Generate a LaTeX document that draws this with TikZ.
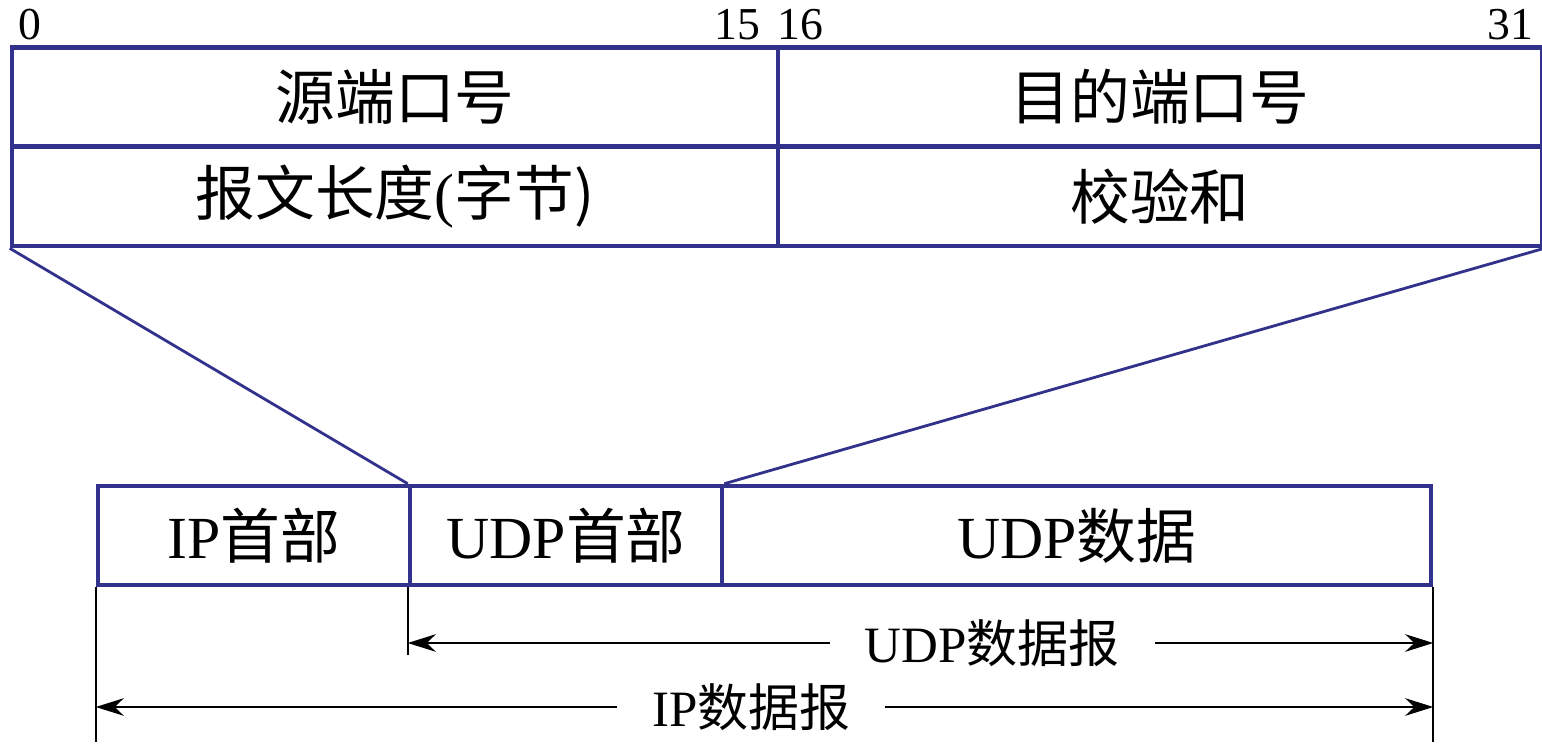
\documentclass[tikz,border=0pt]{standalone}
\usepackage{fontspec}
\setmainfont{Liberation Serif}
\newfontfamily\cjk{Noto Sans CJK SC}
\usetikzlibrary{arrows.meta}
\definecolor{udpblue}{RGB}{50,50,140}
\tikzset{
  field/.style={draw=udpblue,line width=1.3pt,minimum height=0.99cm,inner sep=0pt,font=\fontsize{17}{19}\selectfont},
  bitno/.style={font=\fontsize{13}{15}\selectfont,inner sep=0pt},
  span/.style={{Stealth[length=8pt,width=5pt]}-{Stealth[length=8pt,width=5pt]},line width=0.6pt},
}
\begin{document}
\begin{tikzpicture}
\useasboundingbox (0,0) rectangle (15.42,-7.48);
% header
\node[field,minimum width=7.66cm] (src) at (3.95,-0.97) {{\cjk 源端口号}};
\node[field,minimum width=7.64cm] (dst) at (11.60,-0.97) {{\cjk 目的端口号}};
\node[field,minimum width=7.66cm] (len) at (3.95,-1.965) {{\cjk 报文长度}(\cjk 字节)};
\node[field,minimum width=7.64cm] (cks) at (11.60,-1.965) {{\cjk 校验和}};
\node[bitno] (b0) at (0.30,-0.25) {0};
\node[bitno] (b15) at (7.37,-0.25) {15};
\node[bitno] (b16) at (8.00,-0.25) {16};
\node[bitno] (b31) at (15.10,-0.25) {31};
% datagram
\node[field,minimum width=3.12cm] (iphdr) at (2.54,-5.355) {IP{\cjk 首部}};
\node[field,minimum width=3.12cm] (udphdr) at (5.66,-5.355) {UDP{\cjk 首部}};
\node[field,minimum width=7.09cm] (udpdata) at (10.765,-5.355) {UDP{\cjk 数据}};
\draw[udpblue,line width=0.8pt] (len.south west) -- (udphdr.north west);
\draw[udpblue,line width=0.8pt] (cks.south east) -- (udphdr.north east);
% spans
\coordinate (u0) at (udphdr.south west |- 0,-6.43);
\coordinate (u1) at (udpdata.south east |- 0,-6.43);
\coordinate (i0) at (iphdr.south west |- 0,-7.07);
\coordinate (i1) at (udpdata.south east |- 0,-7.07);
\coordinate (iend) at (iphdr.south west |- 0,-7.42);
\coordinate (uend) at (udphdr.south west |- 0,-6.55);
\coordinate (dend) at (udpdata.south east |- 0,-7.42);
\draw[line width=0.6pt] (iphdr.south west) -- (iend);
\draw[line width=0.6pt] (udphdr.south west) -- (uend);
\draw[line width=0.6pt] (udpdata.south east) -- (dend);
\draw[span] (u0) -- node[pos=0.57,fill=white,font=\fontsize{14.5}{16}\selectfont,inner xsep=10pt] (udplbl) {UDP{\cjk 数据报}} (u1);
\draw[span] (i0) -- node[pos=0.49,fill=white,font=\fontsize{14.5}{16}\selectfont,inner xsep=10pt] (iplbl) {IP{\cjk 数据报}} (i1);
\end{tikzpicture}
\end{document}
